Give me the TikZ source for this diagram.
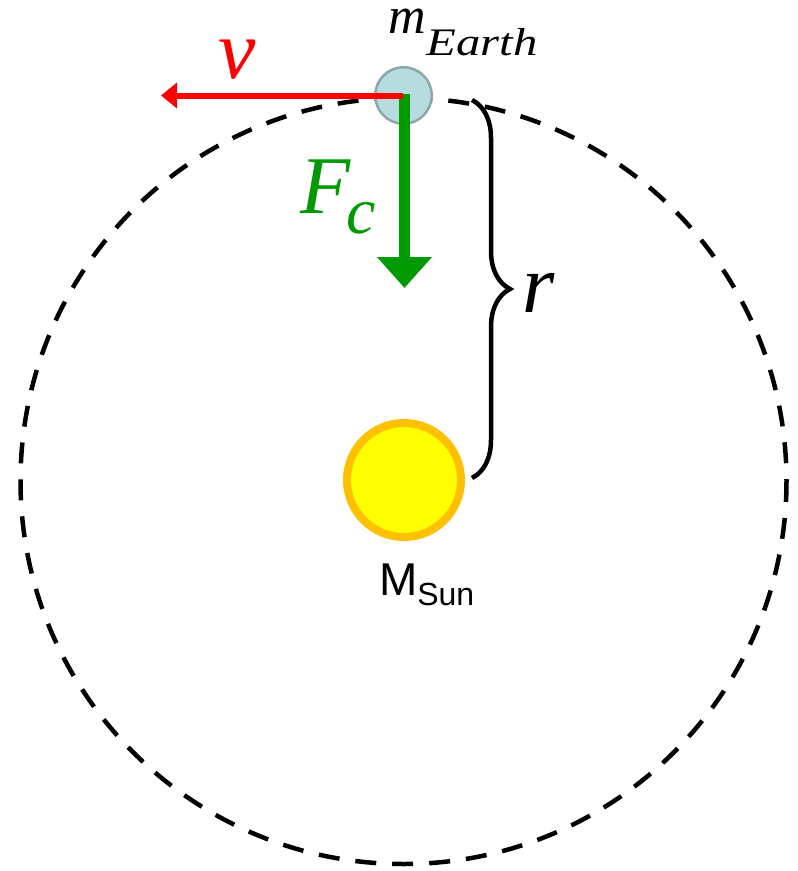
\documentclass[tikz,border=0pt]{standalone}
\usepackage{fontspec}
\setmainfont{Liberation Sans}
\newfontfamily\tms{Liberation Serif}[ItalicFont={Liberation Serif Italic}]
\usetikzlibrary{arrows.meta,decorations.pathreplacing}
\definecolor{earthfill}{HTML}{B6DCDF}
\definecolor{earthline}{HTML}{8DA8AA}
\definecolor{sunline}{HTML}{FFC000}
\definecolor{sunfill}{HTML}{FFFF00}
\definecolor{arrowgreen}{HTML}{009900}
\definecolor{arrowred}{HTML}{FF0000}
\begin{document}
\begin{tikzpicture}[x=1pt,y=-1pt,
  lbl/.style={inner sep=0pt, outer sep=0pt},
  orbit/.style={line width=4.5pt, dash pattern=on 21pt off 16pt},
  planet/.style={circle, inner sep=0pt, outer sep=0pt}]
\useasboundingbox (0,0) rectangle (798,871);
% orbit
\draw[orbit] (403.5,481) circle[radius=383];
% bodies
\node[planet, draw=earthline, fill=earthfill, line width=2.5pt, minimum size=56.5pt] (earth) at (403.5,95.5) {};
\node[planet, draw=sunline, fill=sunfill, line width=8pt, minimum size=114pt] (sun) at (404,480) {};
% arrows
\path (earth.center) ++(-242.5,0) coordinate (vtip);
\path (earth.center) ++(1,192.5) coordinate (ftip);
\draw[arrowgreen, line width=11pt, -{Triangle[length=31pt,width=53pt]}] ([xshift=1pt,yshift=2pt]earth.center) -- (ftip);
\draw[arrowred, line width=6pt, -{Triangle[length=16pt,width=25pt]}] ([xshift=-0.5pt]earth.center) -- (vtip);
% brace
\coordinate (btop) at (472,100);
\coordinate (bbot) at (472,478);
\draw[line width=4.5pt, decorate, decoration={brace, amplitude=38pt}] (btop) -- (bbot);
% labels
\node[lbl, anchor=base, text=arrowred] (vlab) at (237,78) {\tms\itshape\fontsize{84}{84}\selectfont v};
\node[lbl, anchor=base west] (mlab) at (388,33) {\tms\itshape\fontsize{52}{40}\selectfont\smash{m}\kern1pt\raisebox{-22pt}{\scalebox{1.25}[1]{\fontsize{39}{39}\selectfont Earth}}};
\node[lbl, anchor=base west, text=arrowgreen] (flab) at (300,213) {\tms\itshape\fontsize{82}{82}\selectfont F\kern-4pt\raisebox{-20pt}{\fontsize{66}{66}\selectfont c}};
\node[lbl, anchor=base west] (rlab) at (522,312) {\tms\itshape\fontsize{83}{83}\selectfont r};
\node[lbl, anchor=base west] (mslab) at (379,595) {\fontsize{46}{46}\selectfont M\raisebox{-10pt}{\fontsize{32}{32}\selectfont Sun}};
\end{tikzpicture}
\end{document}
